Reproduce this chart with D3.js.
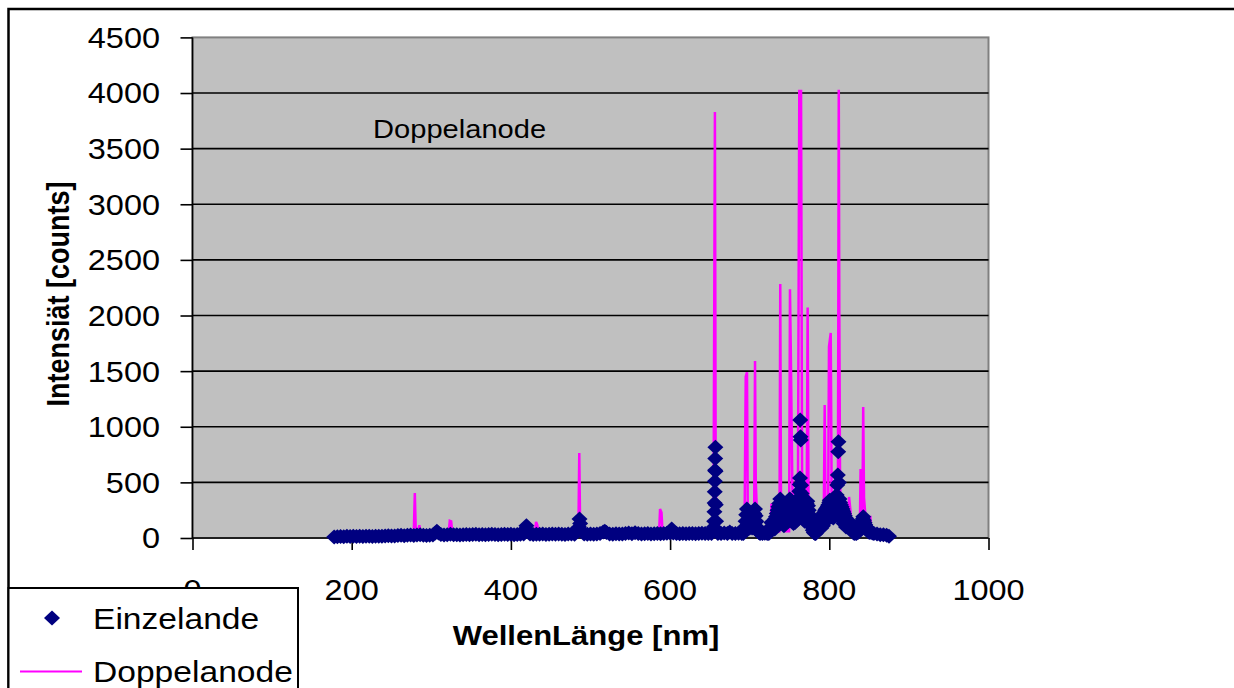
<!DOCTYPE html>
<html>
<head>
<meta charset="utf-8">
<script src="https://cdn.jsdelivr.net/npm/d3@7"></script>
<style>
  html, body { margin: 0; padding: 0; background: #fff; overflow: hidden; }
  text { font-family: "Liberation Sans", Arial, sans-serif; fill: #000; }
</style>
</head>
<body>
<svg id="chart" width="1234" height="688"></svg>
<script>
// Axis ticks
const xTicks = [0, 200, 400, 600, 800, 1000];
const yTicks = [0, 500, 1000, 1500, 2000, 2500, 3000, 3500, 4000, 4500];

// Series "Einzelande": wavelength [nm] and intensity [counts]
const einzelWl = [
  178,182,186,190,194,198,202,206,210,214,218,222,226,230,234,238,242,246,250,254,258,262,266,270,274,278,282,286,290,294,298,302,
  305,307,309,312,316,320,324,328,332,336,340,344,348,352,356,360,364,368,372,376,380,384,388,392,396,400,404,408,412,416,
  418,419.5,421,424,428,432,436,440,444,448,452,456,460,464,468,472,476,480,
  484,485.5,486.2,487,488.5,492,496,500,504,508,512,516,518,520,524,528,532,536,540,544,548,552,556,560,564,568,572,576,580,584,588,592,596,600,
  602,604,608,612,616,620,624,628,632,636,640,644,648,652,
  654,655,655.4,655.7,655.9,656.1,656.3,656.5,656.7,656.9,657.1,657.4,657.8,658.5,660,
  664,668,672,675,678,682,686,690,
  692,693,694,694.8,695.2,695.6,696.5,697.2,697.6,697.9,698.6,699.5,700,700.5,701.5,702.5,703,703.5,704.5,705,705.5,706.7,707.1,707.5,708.3,709.2,710.2,711.5,713,
  716,719,722,
  724,725.5,726.5,727.3,728.2,729,730,731,731.5,732,733,733.5,734,735,735.5,736,737,737.5,738.4,739,739.5,740.5,741,741.5,742.5,743,743.5,744.5,745,745.5,
  746.5,747,747.5,748.5,749,749.5,750.4,751,751.5,752.5,753,753.5,754.5,755,755.5,756.5,757,757.5,758.5,759,759.5,760.5,761,761.5,762.3,762.8,763.2,763.5,763.8,764.2,
  764.6,765.2,765.5,765.8,766.5,767,767.5,768.5,769,769.5,770.5,771,771.5,772.4,773,773.3,774.2,774.6,775.2,776.2,777.2,778.2,779.3,780.5,782,
  783,784.5,785.5,786.5,787.5,788.5,789.5,790,790.5,791.5,792,792.5,793.5,794,794.8,795.5,796,797,797.5,798,799,799.5,800,800.6,801,801.5,802.5,803,803.5,804.5,
  805,805.5,806.5,807,807.5,808.5,809,809.3,810,810.7,811.2,811.5,812.1,812.5,812.8,813.6,814,814.5,815.5,816,816.5,817.5,818,818.5,819.5,820.5,821,821.5,822.5,823.5,
  824.5,825.5,826.5,827.3,828.2,829.2,830.5,832,
  834,836,837,838,839,840,841,841.5,842,842.7,843,843.5,844.3,845.2,846,847,848,849.5,851,852.5,854,856,860,864,868,872,875
];
const einzelInt = [
  8,12,14,12,15,14,15,13,15,14,16,15,14,16,15,16,17,20,18,17,22,25,20,24,28,22,26,30,24,22,24,28,
  45,60,45,32,28,30,34,30,30,28,30,32,30,31,33,30,32,30,31,33,32,30,31,33,32,34,30,32,33,35,
  80,110,70,35,32,34,33,35,32,34,36,33,35,34,32,35,36,34,
  60,100,170,130,60,35,33,35,34,36,40,55,60,50,36,34,38,35,36,40,45,38,48,40,36,38,40,37,39,40,38,40,42,45,
  80,45,40,38,40,39,40,41,39,40,42,40,41,40,
  60,100,150,235,315,415,510,610,715,815,600,300,150,60,40,
  40,45,40,55,40,40,42,40,
  40,60,100,150,90,210,260,210,120,160,130,150,90,130,120,140,90,160,190,120,220,260,140,200,150,100,70,50,40,
  40,42,40,
  40,60,100,140,100,110,130,150,80,170,190,110,220,250,150,280,310,200,350,220,300,260,150,230,210,110,200,210,130,230,
  260,160,290,320,200,340,350,220,340,300,180,260,230,130,220,230,140,250,270,160,290,320,200,360,420,480,540,1060,910,880,
  475,400,250,340,300,170,270,260,150,270,290,180,310,330,200,290,250,130,210,170,130,100,70,50,40,
  40,60,80,100,120,140,160,90,180,200,110,215,230,140,250,150,260,270,170,285,300,190,320,340,210,330,310,190,300,310,
  180,320,335,200,350,330,220,386,476,566,776,866,500,250,350,320,190,300,280,160,260,240,130,220,200,180,100,160,140,125,
  115,120,140,110,80,60,45,40,
  40,50,60,80,100,120,150,110,170,190,110,160,140,120,100,80,65,55,50,60,45,40,35,30,30,25,15
];

// Series "Doppelanode": wavelength [nm] and intensity [counts]
const doppelWl = [
  180,200,220,240,250,260,270,276,278,279.3,280.5,283,285,286.5,292,305,315,321.8,323.2,325,
  326.3,340,360,380,400,415,425,430.3,431.6,433,434.5,450,470,480,484.8,485.9,487,495,520,550,
  570,580,586.2,587.4,589.2,590.5,600,620,640,650,654.5,656.3,657.2,657.8,659,670,685,693.5,695,696.6,
  697.6,700,705.5,706.7,707.6,709.5,711,720,726.2,727.3,728.3,737.4,738.4,739.4,745,749.5,750.6,751.6,753.5,755,
  760.5,762.3,763.4,764.5,765.8,767.5,771.5,772.8,774,785,793,794.2,795.3,798.5,799.6,801.8,803,810.8,811.9,812.6,
  813.5,815,823.8,824.8,826.5,827.8,838.4,839.3,840.2,841.7,842.6,843.6,845.2,846.5,850.4,851.5,852.5,860,870,876
];
const doppelInt = [
  10,15,18,22,30,30,32,35,45,405,50,40,115,40,35,40,38,45,155,150,
  45,38,38,40,40,40,40,45,145,120,45,40,40,42,60,765,70,40,40,40,
  42,40,50,260,230,50,40,40,40,42,60,3830,800,300,60,42,45,60,1450,1490,
  150,60,60,1591,520,140,50,45,50,310,50,60,2284,80,60,60,2236,1700,500,100,
  150,4030,3300,4030,600,200,100,2071,150,70,150,1196,150,150,1720,1843,300,200,4030,2000,
  500,150,80,369,252,80,80,620,150,300,1178,360,220,60,60,200,60,40,35,15
];

const seriesNames = ["Einzelande", "Doppelanode"];
const colors = { einzel: "#000080", doppel: "#FF00FF" };

const svg = d3.select("#chart");

const x = d3.scaleLinear().domain([0, 1000]).range([192.5, 988.5]);
const y = d3.scaleLinear().domain([0, 4500]).range([538, 37.4]);

// Text with a slight horizontal stretch
function stretchedText(g, px, py, str, size, opts = {}) {
  const sx = opts.sx || 1.12;
  const rot = opts.rotate ? ` rotate(${opts.rotate})` : "";
  return g.append("text")
    .attr("transform", `translate(${px},${py}) scale(${sx},1)${rot}`)
    .attr("text-anchor", opts.anchor || "start")
    .attr("font-size", size)
    .attr("font-weight", opts.bold ? "bold" : "normal")
    .text(str);
}

// Outer chart frame
svg.append("rect")
  .attr("x", 8.5).attr("y", 9).attr("width", 1240).attr("height", 700)
  .attr("fill", "#fff").attr("stroke", "#000").attr("stroke-width", 2.5);

// Plot area
const [x0, x1] = x.range();
const [yb, yt] = y.range();
svg.append("rect")
  .attr("x", x0).attr("y", yt).attr("width", x1 - x0).attr("height", yb - yt)
  .attr("fill", "#C0C0C0").attr("stroke", "#808080").attr("stroke-width", 2);

// Gridlines
svg.append("g").selectAll("line")
  .data(yTicks.filter(v => v > 0 && v < 4500))
  .join("line")
  .attr("x1", x0).attr("x2", x1)
  .attr("y1", d => y(d)).attr("y2", d => y(d))
  .attr("stroke", "#000").attr("stroke-width", 1.6);

// Axes
const yAxis = d3.axisLeft(y).tickValues(yTicks).tickSize(12).tickFormat("");
const xAxis = d3.axisBottom(x).tickValues(xTicks).tickSize(12).tickFormat("");
svg.append("g").attr("transform", `translate(${x0},0)`).call(yAxis)
  .call(g => g.selectAll("line,path").attr("stroke", "#000").attr("stroke-width", 1.6))
  .call(g => g.select(".domain").attr("d", `M0,${yt}V${yb}`));
svg.append("g").attr("transform", `translate(0,${yb})`).call(xAxis)
  .call(g => g.selectAll("line,path").attr("stroke", "#000").attr("stroke-width", 1.6))
  .call(g => g.select(".domain").attr("d", `M${x0},0H${x1}`));

// Tick labels
const yLab = svg.append("g");
yTicks.forEach(v => stretchedText(yLab, 160, y(v) + 10.4, String(v), 29, { anchor: "end" }));
const xLab = svg.append("g");
xTicks.forEach(v => stretchedText(xLab, x(v), 600, String(v), 29, { anchor: "middle" }));

// Doppelanode line
const doppelData = d3.zip(doppelWl, doppelInt);
svg.append("path")
  .datum(doppelData)
  .attr("fill", "none")
  .attr("stroke", colors.doppel)
  .attr("stroke-width", 2.5)
  .attr("stroke-linejoin", "miter")
  .attr("d", d3.line().x(d => x(d[0])).y(d => y(d[1])));

// Einzelande diamond markers
const diamond = "M0,-7.5L8,0L0,7.5L-8,0Z";
const einzelData = d3.zip(einzelWl, einzelInt);
svg.append("g").selectAll("path")
  .data(einzelData)
  .join("path")
  .attr("d", diamond)
  .attr("transform", d => `translate(${x(d[0])},${y(d[1])})`)
  .attr("fill", colors.einzel);

// In-plot annotation
stretchedText(svg, 373, 138, "Doppelanode", 26);

// Axis titles
stretchedText(svg, 586, 645, "WellenLänge [nm]", 27, { anchor: "middle", bold: true, sx: 1.15 });
stretchedText(svg, 69, 294, "Intensiät [counts]", 27, { anchor: "middle", bold: true, sx: 1.15, rotate: -90 });

// Legend
const leg = svg.append("g");
leg.append("rect")
  .attr("x", 8.5).attr("y", 588).attr("width", 289.5).attr("height", 120)
  .attr("fill", "#fff").attr("stroke", "#000").attr("stroke-width", 2);
leg.append("path").attr("d", diamond).attr("transform", "translate(52,618)").attr("fill", colors.einzel);
leg.append("line").attr("x1", 20).attr("x2", 82).attr("y1", 671.5).attr("y2", 671.5)
  .attr("stroke", colors.doppel).attr("stroke-width", 2);
stretchedText(leg, 93, 629, seriesNames[0], 30);
stretchedText(leg, 93, 682, seriesNames[1], 30);
</script>
</body>
</html>
